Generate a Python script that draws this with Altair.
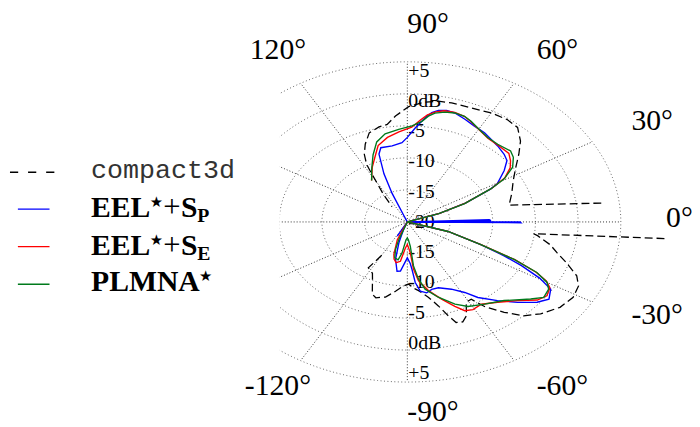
import altair as alt
import pandas as pd
import numpy as np

# ---------------- data (angle in degrees, level in dB) ----------------
compact_a_theta = [-120, -122.5, -117, -114.6, -110, -107.3, -102.3, -97.3, -92.6, -89.3, -85, -83,
                   -78.2, -74.5, -71.9, -70, -67.4, -64.7, -61.2, -58.2, -55.6, -51.2, -47.1, -42.6,
                   -36.7, -31.2, -26.5, -23, -18.9, -15.4, -12, -8, -7.1, -4.9]
compact_a_db = [-14, -11.5, -11.0, -10.2, -8.0, -7.6, -8.0, -9.1, -10.0, -10.3, -9.5, -9.2,
                -8.0, -6.4, -4.6, -3.3, -3.1, -3.8, -5.7, -5.8, -4.0, -1.9, 0.0, 1.2,
                2.3, 2.7, 2.4, 1.55, -0.3, -1.8, -2.9, -4.6, -5.1, 10.5]
compact_b_theta = [7.4, 12.4, 19.9, 27.6, 33.9, 39, 43.6, 48.8, 53.8, 60.1, 67.2, 74.4, 79.1,
                   84, 89.5, 94.8, 98.8, 102.6, 107.8, 112.1, 115.5, 117.9, 118.8, 120.4, 123.3, 126.8]
compact_b_db = [2.9, -7.8, -7.0, -6.0, -4.7, -3.2, -1.7, -0.4, -0.2, -0.35, -0.7, -0.7, -0.8,
                -1.2, -2.0, -3.4, -4.6, -4.8, -5.4, -6.9, -8.3, -9.8, -11.1, -13.1, -15.0, -17.0]

blue_theta = [-125, -121, -118, -115, -112, -106.9, -103.3, -98.9, -96, -90, -87, -85.8, -84.4, -82,
              -78.4, -74.8, -70.5, -63.8, -58.6, -55, -49.3, -44.2, -39.5, -36, -32, -29.5, -27, -25,
              -22.3, -17.3, -14, -1.5, -0.5, 0, 0.6, 1.2, 2, 2.6, 17, 19.5, 23.3, 27.8, 29.5, 35.3,
              39.4, 43, 48.3, 57, 62.3, 67.2, 71.9, 75.2, 78.2, 80.5, 82.7, 86.4, 90, 92.9, 98.5,
              105, 107.4, 110, 111.8, 112.5, 113, 125]
blue_db = [-25, -21, -17.5, -20, -19, -16.6, -14.0, -12.2, -12.3, -14.4, -13.5, -12.6, -10.5, -9.1,
           -8.7, -9.1, -9.1, -8.3, -7.1, -5.6, -3.8, -2.0, -0.3, 0.5, -0.2, -2.2, -5.0, -7.5,
           -10.7, -15.0, -20, -20, -6.7, -6.8, -20, -10.2, -10.4, -20, -20, -16.0, -12.6, -9.0, -7.9, -6.1,
           -4.9, -4.5, -4.1, -3.4, -3.1, -2.6, -2.1, -2.0, -2.2, -2.7, -3.6, -5.3, -6.8, -7.6, -8.0,
           -8.0, -8.9, -12.0, -15.2, -19, -21, -25]

red_theta = [-125, -116, -113, -107.3, -105, -101.6, -97.5, -93.3, -90, -85.9, -84.4, -81.9, -77,
             -71.6, -67.1, -64.1, -60.7, -56, -49.9, -43.6, -38.7, -35.2, -31.6, -29.5, -27.5, -25.1,
             -22.3, -17.3, -14, 17, 19.5, 23.3, 28, 31, 35, 38.3, 42, 48, 54, 60, 65, 68, 72, 76,
             79, 82, 84.5, 88, 94, 100, 106, 109.3, 115.6, 123]
red_db = [-25, -20, -17.0, -14.7, -14.0, -13.5, -13.8, -15.9, -16.5, -15.2, -12.6, -10.7, -9.0,
          -7.3, -5.7, -4.6, -4.3, -4.5, -3.6, -2.2, -0.5, 0.0, -0.4, -1.3, -3.0, -6.1,
          -10.6, -15.0, -20, -20, -16.0, -12.6, -8.8, -6.7, -5.3, -4.6, -4.0, -4.0, -3.9, -3.3, -2.6, -2.2, -2.0, -2.1,
          -2.5, -3.1, -4.0, -5.2, -5.9, -6.6, -7.6, -8.8, -10.5, -12.3]

green_theta = [-125, -113, -109.8, -107.8, -104.7, -100.4, -97.3, -93.1, -90, -87.5, -84.8, -84,
               -81.7, -78.8, -72.9, -66.5, -61.7, -54.8, -47.3, -39.8, -36.4, -32.4, -30, -27.5,
               -25.1, -22.3, -17.3, -14, 17, 19.3, 23.2, 27.9, 30.7, 34.7, 39.1, 42.5, 48.9, 54.5,
               59.7, 64.6, 67.9, 71.9, 75.6, 79.2, 81.5, 83.8, 87.9, 94, 100.7, 106, 111, 117, 122.8]
green_db = [-25, -20, -17.0, -15.5, -14.2, -14.0, -15.1, -17.2, -17.5, -17.2, -16.2, -13.1,
            -11.0, -9.3, -7.7, -6.0, -5.0, -4.3, -3.3, -1.2, -0.15, -0.4, -1.1, -2.9,
            -6.2, -10.7, -15.0, -20, -20, -16.1, -12.7, -8.9, -6.8, -5.0, -4.0, -3.6, -3.9, -3.8,
            -3.3, -2.6, -2.2, -2.1, -2.3, -2.7, -3.3, -4.2, -5.0, -5.5, -6.0, -7.0, -8.8, -10.8, -12.3]

RING_DB = [-15, -10, -5, 0, 5]
SPOKE_DEG = [0, 30, 60, 90, 120, 150, 180, 210, 240, 270, 300, 330]
TOP_LABELS = ["+5", "0dB", "-5", "-10", "-15", "-20"]
TOP_LABEL_DB = [5, 0, -5, -10, -15, -20]
BOTTOM_LABELS = ["+5", "0dB", "-5", "-10", "-15"]
BOTTOM_LABEL_DB = [5, 0, -5, -10, -15]
ANGLE_LABELS = ["0°", "30°", "60°", "90°", "120°", "-120°", "-90°", "-60°", "-30°"]
ANGLE_DEG = [0, 30, 60, 90, 120, -120, -90, -60, -30]
ANGLE_ALIGN = ["left", "left", "left", "left", "center", "center", "left", "left", "left"]

# ---------------- layout ----------------
W, H = 692, 419
CX, CY = 404, 214          # polar centre inside the plot area (px)
SX, SY = 8.64, 6.48        # px per dB, horizontally / vertically
XDOM = [-CX / SX, (W - CX) / SX]
YDOM = [-(H - CY) / SY, CY / SY]
LABEL_R = 30.3
SERIF = "Liberation Serif"

xenc = alt.X("x:Q", scale=alt.Scale(domain=XDOM, nice=False, zero=False), axis=None)
yenc = alt.Y("y:Q", scale=alt.Scale(domain=YDOM, nice=False, zero=False), axis=None)


def series_df(thetas, dbs, seg):
    return pd.DataFrame({"theta": thetas, "db": dbs, "seg": seg, "i": range(len(thetas))})


def polar(chart):
    return chart.transform_calculate(
        r="max(datum.db + 20, 0)"
    ).transform_calculate(
        x="datum.r * cos(datum.theta * PI / 180)",
        y="datum.r * sin(datum.theta * PI / 180)",
    )


def curve(df, color, width=1.4, dash=None):
    kw = dict(color=color, strokeWidth=width, clip=True)
    if dash:
        kw["strokeDash"] = dash
    return polar(alt.Chart(df)).mark_line(**kw).encode(
        x=xenc, y=yenc, detail="seg:N", order="i:Q")


# grid rings
ring_rows = []
for rdb in RING_DB:
    for k, t in enumerate(range(0, 362, 2)):
        ring_rows.append({"theta": t, "db": rdb, "seg": str(rdb), "i": k})
rings = curve(pd.DataFrame(ring_rows), "#666", 1, [1, 2.5])

spoke_rows = []
for a in SPOKE_DEG:
    spoke_rows.append({"theta": a, "db": -20, "seg": str(a), "i": 0})
    spoke_rows.append({"theta": a, "db": 5, "seg": str(a), "i": 1})
spokes = curve(pd.DataFrame(spoke_rows), "#333", 1, [1, 2])

# radial labels
lab = pd.DataFrame({
    "text": TOP_LABELS + BOTTOM_LABELS,
    "x": 0.0,
    "y": [(d + 20) * 0.945 for d in TOP_LABEL_DB] + [-(d + 20) * 0.945 for d in BOTTOM_LABEL_DB],
})
rlabels = alt.Chart(lab).mark_text(align="left", baseline="middle", dx=1, font=SERIF,
                                   fontSize=20, color="black").encode(x=xenc, y=yenc, text="text:N")

# angle labels
ang = pd.DataFrame({"text": ANGLE_LABELS, "deg": ANGLE_DEG, "align": ANGLE_ALIGN})
ang["x"] = LABEL_R * np.cos(np.radians(ang["deg"]))
ang["y"] = LABEL_R * np.sin(np.radians(ang["deg"]))
alabels = []
for al in ["left", "center"]:
    alabels.append(alt.Chart(ang[ang["align"] == al]).mark_text(
        align=al, baseline="middle", dy=-3.5, font=SERIF, fontSize=30, color="black"
    ).encode(x=xenc, y=yenc, text="text:N"))

compact = curve(pd.concat([series_df(compact_a_theta, compact_a_db, "a"),
                           series_df(compact_b_theta, compact_b_db, "b")]), "black", 1.3, [8, 4])
blue = curve(series_df(blue_theta, blue_db, "a"), "#0000ff")
red = curve(series_df(red_theta, red_db, "a"), "#ff0000")
green = curve(series_df(green_theta, green_db, "a"), "#007a1c")

one = pd.DataFrame({"a": [0]})
legend_bg = alt.Chart(one).mark_rect(color="white").encode(
    x=alt.value(0), x2=alt.value(275), y=alt.value(0), y2=alt.value(H))


def hline(x1, x2, y, color, dash=None):
    kw = dict(color=color, strokeWidth=1.4)
    if dash:
        kw["strokeDash"] = dash
    return alt.Chart(one).mark_rule(**kw).encode(x=alt.value(x1), x2=alt.value(x2), y=alt.value(y))


def txt(s, x, y, size, bold=True, font=SERIF, color="black", baseline="alphabetic", align="left"):
    return alt.Chart(one).mark_text(text=s, align=align, baseline=baseline, font=font, fontSize=size,
                                    fontWeight="bold" if bold else "normal", color=color).encode(
        x=alt.value(x), y=alt.value(y))


STAR = dict(bold=False, font="DejaVu Sans", baseline="middle", align="center")
legend = [
    hline(2, 47, 163.7, "black", [8.3, 10]),
    txt("compact3d", 84, 169.5, 27, bold=False, font="Liberation Mono", color="#333"),
    hline(10, 42, 201, "#0000ff"),
    txt("EEL", 84, 209, 30),
    txt("★", 150, 194, 15, **STAR),
    txt("+", 157, 209, 31, bold=False),
    txt("S", 175, 209, 30),
    txt("P", 191.5, 214, 20),
    hline(10, 42, 239, "#ff0000"),
    txt("EEL", 84, 247, 30),
    txt("★", 150, 232, 15, **STAR),
    txt("+", 157, 247, 31, bold=False),
    txt("S", 175, 247, 30),
    txt("E", 191.5, 252, 20),
    hline(10, 42, 277, "#007a1c"),
    txt("PLMNA", 84, 284, 30),
    txt("★", 200, 269, 15, **STAR),
]

chart = alt.layer(
    rings, spokes, rlabels, compact, blue, red, green, legend_bg, *alabels, *legend
).properties(
    width=W, height=H, autosize=alt.AutoSizeParams(type="none"), padding=0
).configure_view(stroke=None)

chart.save("out.html", embed_options={"renderer": "svg", "actions": False})
